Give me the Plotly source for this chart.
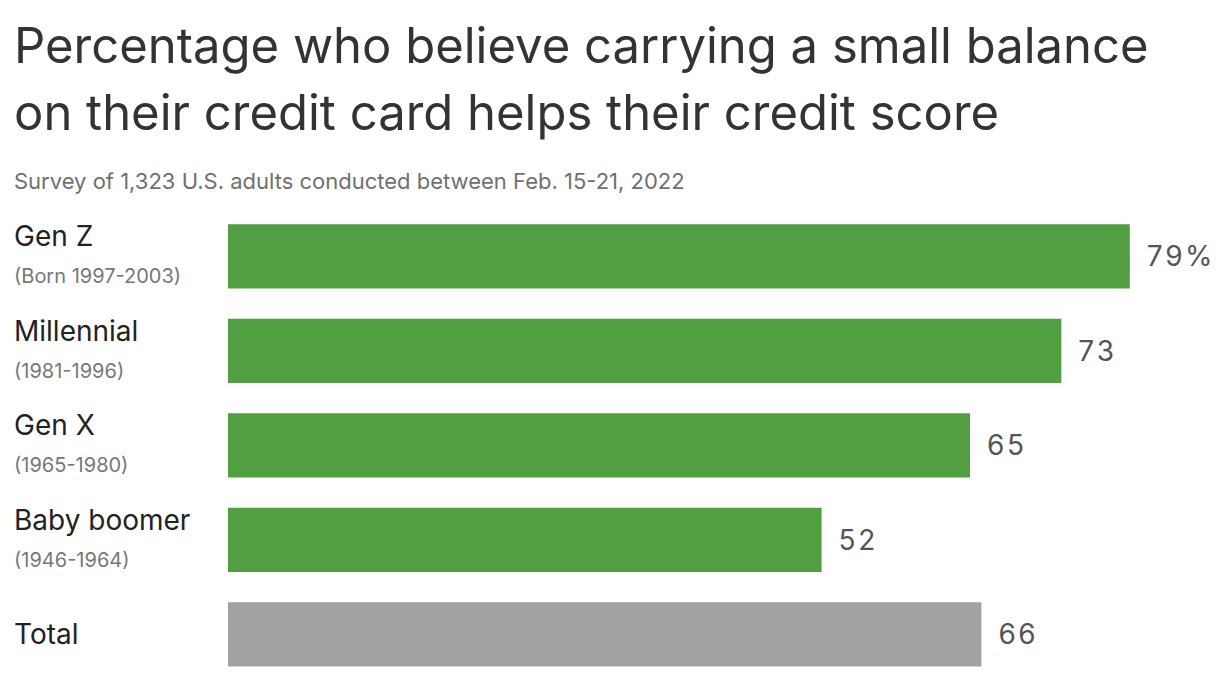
import plotly.graph_objects as go

groups = ["Gen Z", "Millennial", "Gen X", "Baby boomer", "Total"]
born = ["(Born 1997-2003)", "(1981-1996)", "(1965-1980)", "(1946-1964)", ""]
values = [79, 73, 65, 52, 66]
labels = ["79%", "73", "65", "52", "66"]
colors = ["#529e42", "#529e42", "#529e42", "#529e42", "#a2a2a2"]

# widen the value labels a little, like the reference
spaced = ["\u2002" + "\u200a".join(s) for s in labels]

fig = go.Figure(go.Bar(
    x=values, y=groups, orientation="h",
    marker=dict(color=colors, line=dict(width=0)),
    text=spaced, textposition="outside", cliponaxis=False,
    textfont=dict(size=28, color="#555555", family="Inter"),
    hoverinfo="skip",
))

LX = -0.2177
ann = []
for g, b in zip(groups, born):
    if b:
        ann.append(dict(x=LX, y=g, xref="paper", yref="y", text=g, showarrow=False,
                        xanchor="left", yanchor="middle", yshift=20,
                        font=dict(size=28, color="#222222", family="Inter")))
        ann.append(dict(x=LX, y=g, xref="paper", yref="y", text=b, showarrow=False,
                        xanchor="left", yanchor="middle", yshift=-20,
                        font=dict(size=20, color="#777777", family="Inter")))
    else:
        ann.append(dict(x=LX, y=g, xref="paper", yref="y", text=g, showarrow=False,
                        xanchor="left", yanchor="middle",
                        font=dict(size=28, color="#222222", family="Inter")))

ann.append(dict(x=LX, y=1, xref="paper", yref="paper", yshift=28,
                text="Survey of 1,323 U.S. adults conducted between Feb. 15-21, 2022",
                showarrow=False, xanchor="left", yanchor="middle",
                font=dict(size=22, color="#707070", family="Inter")))
for line, shift in [("Percentage who believe carrying a small balance", 164),
                    ("on their credit card helps their credit score", 97)]:
    ann.append(dict(x=LX, y=1, xref="paper", yref="paper", yshift=shift,
                    text=line, showarrow=False, xanchor="left", yanchor="middle",
                    font=dict(size=49, color="#333333", family="Inter")))

fig.update_layout(
    width=1212, height=668,
    margin=dict(l=220, r=0, t=201, b=0),
    paper_bgcolor="white", plot_bgcolor="white",
    xaxis=dict(range=[0, 86.9], visible=False, fixedrange=True),
    yaxis=dict(range=[4.44, -0.5], showticklabels=False, showgrid=False, zeroline=False),
    bargap=0.32, showlegend=False, annotations=ann,
)

fig.write_html("out.html")
